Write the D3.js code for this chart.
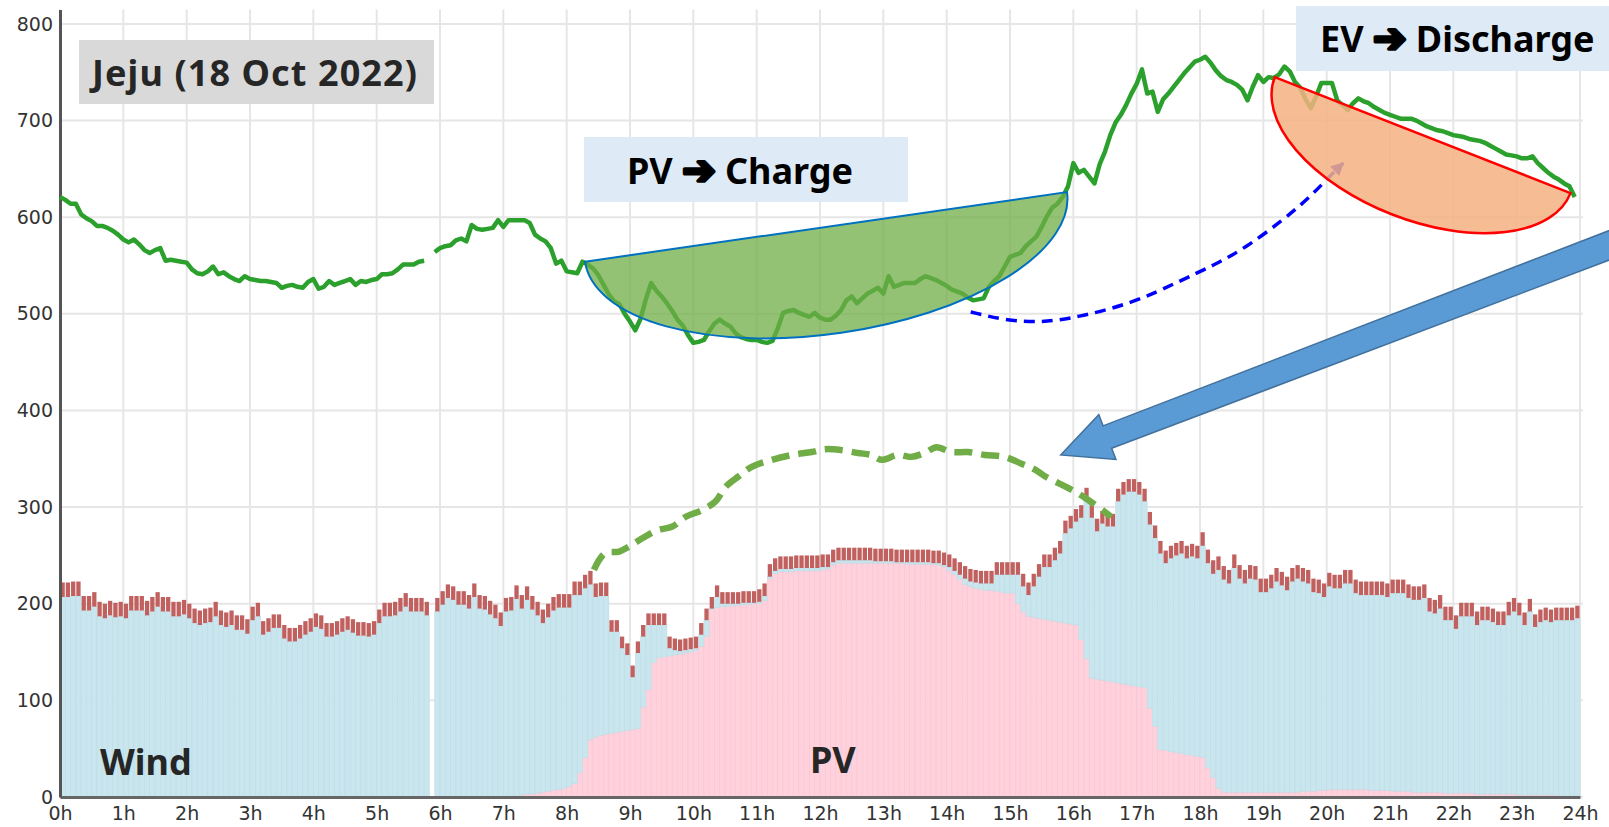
<!DOCTYPE html>
<html lang="en">
<head>
<meta charset="UTF-8">
<title>Jeju (18 Oct 2022)</title>
<script src="https://cdn.jsdelivr.net/npm/d3@7"></script>
<style>
  body { margin: 0; background: #fff; }
  svg { display: block; }
</style>
</head>
<body>
<script>
// 5-minute slots, 288 per day (row = one hour)
// PV output (pink bars)
var pv = [
  0,0,0,0,0,0,0,0,0,0,0,0,
  0,0,0,0,0,0,0,0,0,0,0,0,
  0,0,0,0,0,0,0,0,0,0,0,0,
  0,0,0,0,0,0,0,0,0,0,0,0,
  0,0,0,0,0,0,0,0,0,0,0,0,
  0,0,0,0,0,0,0,0,0,0,null,0,
  0,0,0,0,0,0,0,0,0,0,0,0,
  0,0,1,2,3,3,4,5,6,7,8,9,
  11,14,25,41,59,62,64,65,66,67,68,69,
  70,71,93,111,139,144,145,146,147,148,149,150,
  152,156,166,194,196,197,197,198,198,199,199,200,
  200,203,226,231,233,233,233,234,234,234,234,234,
  235,236,240,242,242,242,242,242,242,242,242,242,
  242,242,242,242,241,241,241,241,241,241,240,238,
  234,230,225,220,218,216,215,214,214,213,212,211,
  211,200,192,187,186,185,184,183,182,181,180,179,
  178,163,143,123,122,121,120,119,118,117,116,115,
  114,113,92,73,49,48,47,46,45,44,43,42,
  41,30,20,9,5,5,5,5,5,5,5,5,
  5,5,5,5,5,5,5,6,6,6,7,7,
  8,8,8,8,8,8,8,8,7,7,7,7,
  6,6,6,6,5,5,5,5,5,5,4,4,
  4,4,4,4,3,3,3,3,3,3,3,3,
  2,2,2,2,2,2,2,2,1,1,1,1
];

// PV + wind, top of the light blue bars
var total = [
  207,207,208,208,193,193,197,187,185,188,186,187,
  185,193,193,193,188,192,197,192,192,187,187,189,
  185,180,178,180,181,187,178,176,178,173,173,169,
  183,187,168,171,175,175,164,161,161,164,168,171,
  176,174,166,166,168,171,173,170,167,167,166,168,
  180,187,187,188,192,197,192,192,192,188,null,192,
  199,206,204,199,199,195,207,195,194,189,185,177,
  192,193,205,195,204,194,188,180,186,193,196,196,
  196,209,209,216,220,207,208,208,171,171,154,147,
  124,149,166,178,178,178,178,154,152,151,152,153,
  154,168,183,195,207,200,200,200,200,201,201,201,
  202,208,228,234,236,236,236,237,237,237,237,237,
  238,238,243,245,245,245,245,245,245,245,244,244,
  244,244,243,243,243,243,243,243,243,242,242,240,
  238,234,230,226,223,222,221,221,221,230,230,230,
  230,230,218,209,218,228,238,238,245,252,273,278,
  285,289,307,289,275,283,280,280,306,313,316,316,
  313,306,282,268,252,242,247,250,252,247,249,247,
  260,242,231,235,225,221,237,226,221,226,225,212,
  212,216,223,219,214,223,226,223,221,212,211,207,
  218,216,216,221,221,211,209,209,209,209,209,207,
  211,211,211,206,204,204,206,192,190,195,183,183,
  174,187,187,187,178,183,183,181,178,178,188,192,
  188,178,192,176,181,183,181,183,183,183,183,185
];

// red segment stacked on top of each bar
var cap = [
  15,15,15,15,15,15,15,15,15,15,15,15,
  15,15,15,15,15,15,15,15,15,15,15,15,
  15,15,15,15,15,15,15,15,15,15,15,15,
  14,14,14,14,14,14,14,14,14,14,14,14,
  14,14,14,14,14,14,14,14,14,14,14,14,
  14,14,14,14,14,14,14,14,14,14,null,14,
  14,14,14,14,14,14,14,14,14,14,14,14,
  14,14,14,14,14,14,14,14,14,14,14,14,
  14,14,14,14,14,14,14,14,12,12,12,12,
  12,12,12,12,12,12,12,12,12,12,12,12,
  12,12,12,12,12,12,12,12,12,12,12,12,
  13,13,13,13,13,13,13,13,13,13,13,13,
  13,13,13,13,13,13,13,13,13,13,13,13,
  13,13,13,13,13,13,13,13,13,13,13,13,
  13,13,13,13,13,13,13,13,13,13,13,13,
  13,13,13,13,13,13,13,13,13,13,13,13,
  13,13,13,13,13,13,13,13,13,13,13,13,
  13,13,13,13,13,13,13,13,13,13,13,13,
  14,14,14,14,14,14,14,14,14,14,14,14,
  14,14,14,14,14,14,14,14,14,14,14,14,
  14,14,14,14,14,14,14,14,14,14,14,14,
  14,14,14,14,14,14,14,14,14,14,14,14,
  14,14,14,14,14,14,14,14,14,14,14,14,
  13,13,13,13,13,13,13,13,13,13,13,13
];

// green line
var netLoad = [
  621,618,614,614,603,599,596,591,591,589,586,582,
  577,574,577,572,566,563,566,568,555,556,555,554,
  553,546,542,541,544,549,541,543,539,536,534,539,
  536,535,534,534,533,532,527,529,530,528,527,533,
  536,526,528,534,530,532,534,536,530,534,533,535,
  536,541,541,542,546,551,551,551,554,555,null,564,
  568,570,571,576,578,575,592,588,587,588,589,597,
  590,597,597,597,597,594,582,578,575,568,552,555,
  544,543,542,554,551,547,540,530,520,513,510,500,
  492,483,495,515,532,524,518,511,503,494,488,478,
  470,471,473,482,490,494,490,487,480,476,474,473,
  473,471,470,472,485,501,503,504,501,499,497,501,
  496,494,494,498,504,514,518,511,516,521,524,527,
  521,539,528,530,532,532,532,536,539,537,535,532,
  529,525,523,521,517,514,515,516,528,534,539,549,
  559,561,563,570,575,580,590,601,610,614,621,632,
  656,646,649,642,635,655,668,685,698,706,716,728,
  738,753,728,730,709,722,728,735,742,749,755,761,
  763,766,760,752,746,742,740,737,732,721,735,747,
  740,745,744,748,756,751,740,734,722,713,725,739,
  739,739,721,716,711,718,723,720,718,714,711,708,
  706,704,702,702,702,700,697,694,692,690,689,687,
  685,684,683,681,680,679,677,674,671,668,665,664,
  663,661,661,663,656,651,646,642,639,635,632,621
];

// dashed green curve [hour, MW]
var pvShifted = [[8.43,235],[8.6,252],[8.83,254],[8.98,259],[9.2,268],[9.43,276],[9.67,280],
  [9.88,290],[10.14,297],[10.35,306],[10.51,321],[10.72,332],[10.93,342],[11.24,349],
  [11.56,354],[11.87,357],[12.08,360],[12.34,359],[12.6,356],[12.81,354],[12.97,349],
  [13.23,354],[13.44,352],[13.65,356],[13.84,362],[14.07,357],[14.33,357],[14.6,354],
  [14.91,352],[15.18,345],[15.39,339],[15.55,332],[15.97,318],[16.2,309],[16.6,290]];

// blue dashed arrow [hour, MW]
var shiftPath = [[14.38,502],[14.94,493],[15.49,491],[16.04,496],[16.94,511],[17.65,533],
  [18.24,551],[18.71,568],[19.31,597],[19.74,621],[20.1,646],[20.26,656]];

var chargeChord = [[8.29,554],[15.9,626]];
var dischargeChord = [[19.18,745],[23.85,625]];
var bigArrow = [[25.42,595],[15.8,354]]; // tail, tip

var hourTicks = [0,1,2,3,4,5,6,7,8,9,10,11,12,13,14,15,16,17,18,19,20,21,22,23,24];
var hourLabels = ["0h","1h","2h","3h","4h","5h","6h","7h","8h","9h","10h","11h","12h",
  "13h","14h","15h","16h","17h","18h","19h","20h","21h","22h","23h","24h"];
var valueTicks = [0,100,200,300,400,500,600,700,800];

var w = 1609, h = 827;
var x = d3.scaleLinear().domain([0, 24]).range([60, 1580]);
var y = d3.scaleLinear().domain([0, 815]).range([797, 9.5]);
var step = x(1 / 12) - x(0);

var svg = d3.select("body").append("svg")
  .attr("width", w)
  .attr("height", h);

// grid
svg.append("g").selectAll("line")
  .data(hourTicks).enter().append("line")
  .attr("x1", d => x(d)).attr("x2", d => x(d))
  .attr("y1", y(815)).attr("y2", y(0))
  .attr("stroke", "#e6e6e6").attr("stroke-width", 2);
svg.append("g").selectAll("line")
  .data(valueTicks).enter().append("line")
  .attr("x1", x(0)).attr("x2", x(24) + 3)
  .attr("y1", d => y(d)).attr("y2", d => y(d))
  .attr("stroke", "#e6e6e6").attr("stroke-width", 2);

var slots = pv.map((d, i) => ({ t: i / 12, pv: d, total: total[i], cap: cap[i] }))
  .filter(d => d.total != null);

// pv bars
svg.append("g").selectAll("rect")
  .data(slots).enter().append("rect")
  .attr("x", d => x(d.t))
  .attr("width", step)
  .attr("y", d => y(d.pv))
  .attr("height", d => y(0) - y(d.pv))
  .attr("fill", "#ffd1dc")
  .attr("stroke", "#f7c3cf").attr("stroke-width", 0.5);

// wind bars on top of pv
svg.append("g").selectAll("rect")
  .data(slots).enter().append("rect")
  .attr("x", d => x(d.t))
  .attr("width", step)
  .attr("y", d => y(d.total))
  .attr("height", d => y(d.pv) - y(d.total))
  .attr("fill", "#c9e5ed")
  .attr("stroke", "#badce6").attr("stroke-width", 0.5);

// red caps
svg.append("g").selectAll("rect")
  .data(slots).enter().append("rect")
  .attr("x", d => x(d.t) + 0.5)
  .attr("width", step - 1)
  .attr("y", d => y(d.total + d.cap))
  .attr("height", d => y(d.total) - y(d.total + d.cap))
  .attr("fill", "#c0605f");

// axes
var xAxis = svg.append("g")
  .attr("transform", "translate(0," + y(0) + ")")
  .call(d3.axisBottom(x).tickValues(hourTicks).tickFormat((d, i) => hourLabels[i])
    .tickSize(0).tickPadding(10));
var yAxis = svg.append("g")
  .attr("transform", "translate(" + x(0) + ",0)")
  .call(d3.axisLeft(y).tickValues(valueTicks).tickSize(0).tickPadding(7));
xAxis.select(".domain").attr("stroke", "#666").attr("stroke-width", 3);
yAxis.select(".domain").attr("stroke", "#555").attr("stroke-width", 3);
svg.selectAll(".tick text")
  .attr("font-family", "DejaVu Sans, Verdana, sans-serif")
  .attr("font-size", 19)
  .attr("fill", "#333");

// green line
var line = d3.line()
  .defined(d => d != null)
  .x((d, i) => x(i / 12))
  .y(d => y(d));
svg.append("path")
  .datum(netLoad)
  .attr("d", line)
  .attr("fill", "none")
  .attr("stroke", "#2ca02c")
  .attr("stroke-width", 4.5)
  .attr("stroke-linejoin", "round");

// dashed green curve
svg.append("path")
  .datum(pvShifted)
  .attr("d", d3.line().curve(d3.curveCatmullRom).x(d => x(d[0])).y(d => y(d[1])))
  .attr("fill", "none")
  .attr("stroke", "#70ad47")
  .attr("stroke-width", 6.5)
  .attr("stroke-dasharray", "18 9");

// half ellipse on a chord
function halfEllipse(chord, b) {
  var p1 = [x(chord[0][0]), y(chord[0][1])];
  var p2 = [x(chord[1][0]), y(chord[1][1])];
  var a = Math.hypot(p2[0] - p1[0], p2[1] - p1[1]) / 2;
  var rot = Math.atan2(p2[1] - p1[1], p2[0] - p1[0]) * 180 / Math.PI;
  return "M" + p1 + "L" + p2 + "A" + a + "," + b + " " + rot + " 0 1 " + p1 + "Z";
}

svg.append("path")
  .attr("d", halfEllipse(chargeChord, 107))
  .attr("fill", "#70ad47")
  .attr("fill-opacity", 0.75)
  .attr("stroke", "#0070c0")
  .attr("stroke-width", 2);

// blue dashed arrow
svg.append("defs").append("marker")
  .attr("id", "tri")
  .attr("viewBox", "0 0 10 10")
  .attr("refX", 9).attr("refY", 5)
  .attr("markerUnits", "userSpaceOnUse")
  .attr("markerWidth", 15).attr("markerHeight", 13)
  .attr("orient", "auto")
  .append("path")
  .attr("d", "M0,0L10,5L0,10Z")
  .attr("fill", "#0000ff");

svg.append("path")
  .datum(shiftPath)
  .attr("d", d3.line().curve(d3.curveBasis).x(d => x(d[0])).y(d => y(d[1])))
  .attr("fill", "none")
  .attr("stroke", "#0000ff")
  .attr("stroke-width", 3.5)
  .attr("stroke-dasharray", "11 7")
  .attr("marker-end", "url(#tri)");

svg.append("path")
  .attr("d", halfEllipse(dischargeChord, 85))
  .attr("fill", "#f4b183")
  .attr("fill-opacity", 0.85)
  .attr("stroke", "#ff0000")
  .attr("stroke-width", 2.5);

// big block arrow
function blockArrow(tail, tip) {
  var t = [x(tip[0]), y(tip[1])], s = [x(tail[0]), y(tail[1])];
  var len = Math.hypot(s[0] - t[0], s[1] - t[1]);
  var ux = (s[0] - t[0]) / len, uy = (s[1] - t[1]) / len;
  var nx = -uy, ny = ux;
  var p = (a, c) => [t[0] + ux * a + nx * c, t[1] + uy * a + ny * c];
  return [p(0, 0), p(50, -24), p(50, -12), p(len, -14), p(len, 14), p(50, 12), p(50, 24)];
}
svg.append("path")
  .attr("d", "M" + blockArrow(bigArrow[0], bigArrow[1]).join("L") + "Z")
  .attr("fill", "#5b9bd5")
  .attr("stroke", "#41719c")
  .attr("stroke-width", 1.5);

// text boxes
var boldFont = "'Noto Sans', 'DejaVu Sans', sans-serif";
function box(bx, by, bw, bh, fill, tx, ty, parts, color, spacing) {
  svg.append("rect")
    .attr("x", bx).attr("y", by).attr("width", bw).attr("height", bh)
    .attr("fill", fill);
  var t = svg.append("text")
    .attr("x", tx).attr("y", ty)
    .attr("font-family", boldFont)
    .attr("font-weight", "bold")
    .attr("font-size", 36)
    .attr("letter-spacing", spacing || 0)
    .attr("fill", color);
  parts.forEach(function (p) {
    var s = t.append("tspan").text(p);
    if (p.trim() === "➔") {
      s.attr("font-family", "DejaVu Sans")
        .attr("font-size", 40)
        .attr("stroke", color)
        .attr("stroke-width", 3.5)
        .attr("stroke-linejoin", "round");
    }
  });
}
box(79, 40, 355, 64, "#d9d9d9", 92, 86, ["Jeju (18 Oct 2022)"], "#262626", 1.1);
box(584, 137, 324, 65, "#deebf7", 627, 184, ["PV ", "➔", " Charge"], "#000");
box(1296, 6, 320, 65, "#deebf7", 1320, 52, ["EV ", "➔", " Discharge"], "#000");

svg.append("text")
  .attr("x", 100).attr("y", 775)
  .attr("font-family", boldFont).attr("font-weight", "bold")
  .attr("font-size", 36).attr("fill", "#262626")
  .text("Wind");
svg.append("text")
  .attr("x", 810).attr("y", 773)
  .attr("font-family", boldFont).attr("font-weight", "bold")
  .attr("font-size", 36).attr("fill", "#262626")
  .text("PV");
</script>
</body>
</html>
